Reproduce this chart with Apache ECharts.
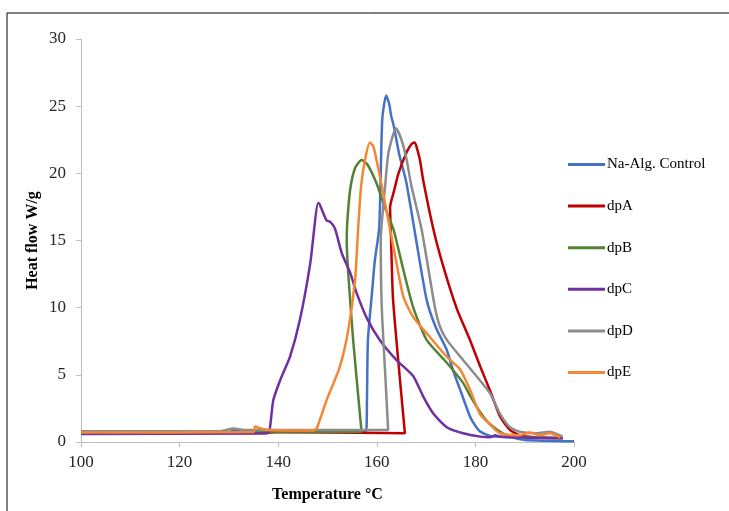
<!DOCTYPE html>
<html>
<head>
<meta charset="utf-8">
<script src="https://cdn.jsdelivr.net/npm/echarts@6/dist/echarts.min.js"></script>
<style>
  html, body { margin: 0; padding: 0; background: #fff; }
  #chart { width: 729px; height: 511px; }
</style>
</head>
<body>
<div id="chart"></div>
<script>
// 读图估算的数据 [温度, 热流]
const seriesNames = ['Na-Alg. Control', 'dpA', 'dpB', 'dpC', 'dpD', 'dpE'];
const seriesColors = ['#4472C4', '#C00000', '#548235', '#7030A0', '#8C8C8C', '#F58634'];

const naAlgControl = [
  [100, 0.72], [130, 0.75], [131.5, 0.9], [133, 0.8], [157.8, 0.72], [158, 3], [158.2, 7.6],
  [159, 11], [159.6, 13.5], [160.5, 16], [161.1, 24], [161.9, 25.8], [162.5, 25.2],
  [162.9, 24.3], [163.4, 23.6], [164.5, 21.5], [166, 19.3], [168, 15], [170.1, 10.6],
  [172, 8.5], [174.2, 6.85], [175.5, 5.3], [176.9, 3.9], [178.9, 1.9], [180, 1.2],
  [181, 0.77], [183, 0.45], [185, 0.4], [187, 0.35], [190, 0.15], [200, 0.05]
];
const dpA = [
  [100, 0.65], [137, 0.65], [140, 0.75], [165.7, 0.65], [163.3, 10.6], [162.9, 15],
  [162.7, 17.5], [163.5, 18.7], [164.4, 20.0], [166.1, 21.6], [167.1, 22.2], [167.7, 22.3],
  [168.2, 21.8], [168.8, 20.9], [169.4, 19.5], [171.5, 15.8], [173.5, 13.05], [176.2, 9.95],
  [178.9, 7.6], [181, 5.6], [183, 3.8], [185, 1.9], [187, 0.9], [189, 0.5], [192, 0.35],
  [197.7, 0.3]
];
const dpB = [
  [100, 0.75], [156.9, 0.77], [155.2, 7.6], [154.2, 12.6], [153.9, 15], [154, 16.3],
  [154.6, 18.8], [155.6, 20.4], [156.9, 21.0], [158.2, 20.6], [160, 19.2], [161.5, 17.6],
  [163.4, 15.8], [165.4, 12.8], [167.4, 10], [170.1, 7.6], [174.2, 5.9], [177.5, 4.4],
  [179, 3.4], [181, 2.2], [182.5, 1.5], [184.5, 0.9], [186.5, 0.5], [190, 0.35], [197.7, 0.3]
];
const dpC = [
  [100, 0.6], [137.8, 0.65], [138.3, 1.0], [139, 3.1], [140.4, 4.6], [142.4, 6.35],
  [144.4, 9.1], [146.5, 13.3], [148.1, 17.8], [148.4, 17.7], [149.8, 16.5], [150.5, 16.4],
  [151.5, 15.9], [152.9, 14.05], [154.6, 12.6], [155.9, 11.1], [158, 9.2], [160.6, 7.6],
  [164, 6.1], [167.4, 4.9], [169.4, 3.4], [171.5, 2.1], [174.2, 1.1], [177.5, 0.65],
  [181, 0.4], [183, 0.35], [184, 0.5], [185, 0.4], [197.7, 0.27]
];
const dpD = [
  [100, 0.8], [128, 0.8], [131, 1.0], [133, 0.9], [162.3, 0.9], [161.7, 5.1], [161, 10.1],
  [160.8, 15], [161.7, 19.1], [162.4, 21.6], [163.9, 23.35], [165, 22.5], [166, 21.1],
  [167, 19.1], [169.1, 15.8], [171.8, 10], [172.8, 8.6], [174.2, 7.6], [177.5, 6.1],
  [180.9, 4.6], [183, 3.6], [185, 2.1], [187, 1.1], [189, 0.77], [192.4, 0.65],
  [195, 0.77], [197.7, 0.4]
];
const dpE = [
  [100, 0.7], [135, 0.75], [135.3, 1.15], [136.5, 1.0], [138, 0.9], [147, 0.85],
  [147.8, 1.0], [149.8, 3.1], [152.5, 5.6], [154.2, 8.3], [155.6, 12.1], [156.2, 15.8],
  [156.8, 19], [157.6, 21], [158.6, 22.3], [159.3, 22.0], [160, 20.9], [161, 19.1],
  [162.7, 15.8], [164, 13.3], [165.4, 10.8], [167.4, 9.3], [170.8, 7.8], [174.2, 6.35],
  [176.9, 5.4], [178.9, 3.9], [180.9, 2.1], [183, 1.3], [185, 0.65], [189, 0.5],
  [191, 0.7], [193, 0.5], [195.1, 0.65], [197.2, 0.35]
];
const allData = [naAlgControl, dpA, dpB, dpC, dpD, dpE];

let myChart = echarts.init(document.getElementById('chart'));
const font = '"Liberation Serif", "Times New Roman", serif';

myChart.setOption({
  animation: false,
  backgroundColor: '#fff',
  graphic: [{
    type: 'rect',
    shape: { x: 7, y: 13, width: 760, height: 540 },
    style: { fill: 'none', stroke: '#000', lineWidth: 1 },
    silent: true
  }],
  legend: {
    orient: 'vertical',
    left: 563,
    top: 152,
    icon: 'rect',
    itemWidth: 37,
    itemHeight: 3,
    itemGap: 26.6,
    textStyle: { fontFamily: font, fontSize: 15, color: '#000', padding: [0, 0, 0, -3] },
    data: seriesNames
  },
  grid: {
    left: 81,
    right: 155,
    top: 39,
    bottom: 69
  },
  xAxis: {
    type: 'value',
    min: 100,
    max: 200,
    interval: 20,
    name: 'Temperature °C',
    nameLocation: 'middle',
    nameGap: 45,
    nameTextStyle: { fontFamily: font, fontSize: 16, fontWeight: 'bold', color: '#000' },
    splitLine: { show: false },
    axisLine: { lineStyle: { color: '#bfbfbf', width: 1 } },
    axisTick: { length: 5, lineStyle: { color: '#bfbfbf' } },
    axisLabel: { fontFamily: font, fontSize: 17, color: '#262626', margin: 12 }
  },
  yAxis: {
    type: 'value',
    min: 0,
    max: 30,
    interval: 5,
    name: 'Heat flow W/g',
    nameLocation: 'middle',
    nameGap: 40,
    nameMoveOverlap: false,
    nameTextStyle: { fontFamily: font, fontSize: 16, fontWeight: 'bold', color: '#000' },
    splitLine: { show: false },
    axisLine: { show: true, lineStyle: { color: '#bfbfbf', width: 1 } },
    axisTick: { show: true, length: 5, lineStyle: { color: '#bfbfbf' } },
    axisLabel: { fontFamily: font, fontSize: 17, color: '#262626', margin: 15 }
  },
  series: seriesNames.map(function (name, i) {
    return {
      name: name,
      type: 'line',
      data: allData[i],
      showSymbol: false,
      smooth: 0.2,
      color: seriesColors[i],
      lineStyle: { width: 2.5, color: seriesColors[i] }
    };
  })
});
window.addEventListener('resize', function () {
  myChart.resize();
});
</script>
</body>
</html>
